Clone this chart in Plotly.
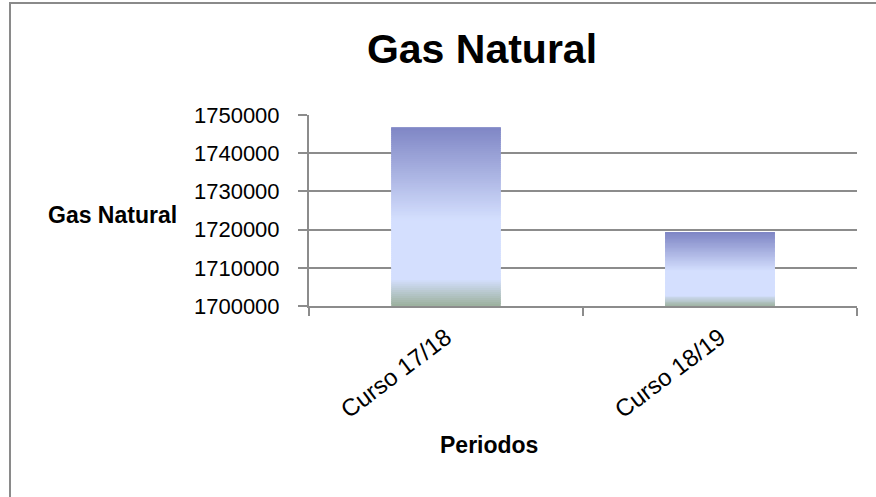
import plotly.graph_objects as go

# ---- data ----
categories = ["Curso 17/18", "Curso 18/19"]
values = [1746800, 1719300]
y_ticks = [1700000, 1710000, 1720000, 1730000, 1740000, 1750000]
title_text = "Gas Natural"
y_title = "Gas Natural"
x_title = "Periodos"

# ---- style ----
W, H = 876, 497
L, R, T, B = 309, 19, 115, 191
PW, PH = W - L - R, H - T - B
base0 = y_ticks[0]
GRID = "#8C8C8C"
FONT = "Liberation Sans"

# gradient stops (fraction from top of bar -> rgb)
stops = [(0.0, (127, 134, 197)), (0.52, (212, 223, 254)),
         (0.85, (212, 223, 254)), (1.0, (155, 176, 156))]


def grad(t):
    for (a, ca), (b, cb) in zip(stops[:-1], stops[1:]):
        if a <= t <= b:
            f = 0 if b == a else (t - a) / (b - a)
            c = [round(ca[i] + (cb[i] - ca[i]) * f) for i in range(3)]
            return "rgb(%d,%d,%d)" % tuple(c)
    return "rgb(%d,%d,%d)" % stops[-1][1]


N = 90
xs, bases, heights, colors = [], [], [], []
for cat, v in zip(categories, values):
    span = v - base0
    h = span / N
    for k in range(N):
        b = base0 + h * k
        xs.append(cat)
        bases.append(b)
        heights.append(min(h * 1.8, v - b))
        colors.append(grad(1 - (k + 0.5) / N))

fig = go.Figure(go.Bar(
    x=xs, y=heights, base=bases,
    marker=dict(color=colors, line=dict(width=0)),
    width=0.4, hoverinfo="skip", showlegend=False,
))

fig.update_layout(
    width=W, height=H,
    margin=dict(l=L, r=R, t=T, b=B, pad=0),
    paper_bgcolor="white", plot_bgcolor="white",
    barmode="overlay",
    font=dict(family=FONT, color="black"),
    title=dict(text="<b>%s</b>" % title_text, font=dict(size=41, family=FONT, color="black"),
               x=482 / W, xref="container", xanchor="center",
               y=1 - 49 / H, yref="container", yanchor="middle"),
    xaxis=dict(
        type="category", categoryorder="array", categoryarray=categories,
        range=[-0.5, 1.5],
        showline=True, linecolor=GRID, linewidth=2,
        ticks="outside", tickson="boundaries", ticklen=8, tickwidth=2, tickcolor=GRID,
        ticklabelstandoff=6,
        tickangle=-37, tickfont=dict(size=24, family=FONT, color="black"),
        showgrid=False, zeroline=False,
    ),
    yaxis=dict(
        range=[y_ticks[0], y_ticks[-1]],
        tickvals=y_ticks, ticktext=[str(t) for t in y_ticks],
        showline=True, linecolor=GRID, linewidth=2,
        ticks="outside", ticklen=9, tickwidth=2, tickcolor=GRID,
        ticklabelstandoff=14,
        tickfont=dict(size=22, family=FONT, color="black"),
        showgrid=True, gridcolor=GRID, gridwidth=2, zeroline=False,
    ),
    shapes=[dict(type="rect", xref="paper", yref="paper",
                 x0=(10 - L) / PW, x1=2.0, y0=-2.0, y1=1 + (T - 3) / PH,
                 line=dict(color="#8A8A8A", width=2), fillcolor="rgba(0,0,0,0)", layer="below")],
    annotations=[
        dict(text="<b>%s</b>" % y_title, xref="paper", yref="paper",
             x=(112 - L) / PW, y=(306 - 215) / PH, xanchor="center", yanchor="middle",
             showarrow=False, font=dict(size=23, family=FONT, color="black")),
        dict(text="<b>%s</b>" % x_title, xref="paper", yref="paper",
             x=(489 - L) / PW, y=(306 - 445) / PH, xanchor="center", yanchor="middle",
             showarrow=False, font=dict(size=23, family=FONT, color="black")),
    ],
)

fig.write_html("out.html", config={"displayModeBar": False},
               post_script="document.body.style.margin='0';document.body.style.overflow='hidden';")
